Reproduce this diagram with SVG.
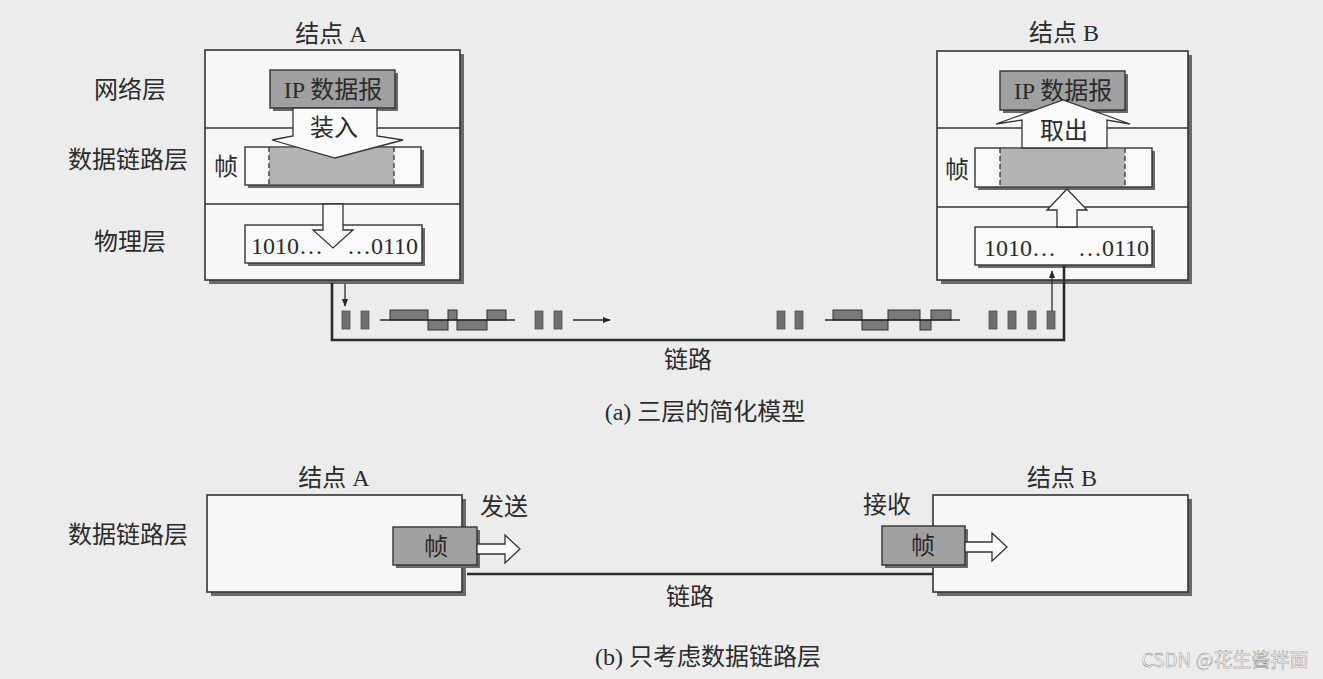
<svg xmlns="http://www.w3.org/2000/svg" width="1323" height="679" viewBox="0 0 1323 679">
<style>
.t{font-family:"Liberation Serif","Noto Sans CJK SC",serif;fill:#2b2b2b;font-size:24px}
.c{text-anchor:middle}
.box{fill:#f7f7f7;stroke:#333;stroke-width:1.6}
.sh{fill:#6a6a6a}
.sep{stroke:#333;stroke-width:1.4}
.ip{fill:#a0a0a0;stroke:#333;stroke-width:1.4}
.frm{fill:#f9f9f9;stroke:#333;stroke-width:1.4}
.fg{fill:#b4b4b4}
.dash{stroke:#333;stroke-width:1.3;stroke-dasharray:5 3}
.hol{fill:#fbfbfb;stroke:#333;stroke-width:1.3;stroke-linejoin:miter}
.link{fill:none;stroke:#2b2b2b;stroke-width:2.6}
.thin{stroke:#2b2b2b;stroke-width:1.3;fill:none}
.sig{fill:#6e6e6e;stroke:#555;stroke-width:0.8}
.pulse{fill:#7a7a7a;stroke:#333;stroke-width:1}
</style>
<defs>
<marker id="ah" viewBox="0 0 10 10" refX="9" refY="5" markerWidth="8" markerHeight="8" markerUnits="userSpaceOnUse" orient="auto">
<path d="M0,1 L10,5 L0,9 Z" fill="#2b2b2b"/>
</marker>
</defs>
<rect x="0" y="0" width="1323" height="679" fill="#ececec"/>

<!-- layer labels (a) -->
<g id="layer-labels">
<text class="t c" x="130" y="98">网络层</text>
<text class="t c" x="128" y="168">数据链路层</text>
<text class="t c" x="130" y="250">物理层</text>
</g>

<!-- (a) node A -->
<g id="nodeA-a">
<text class="t c" x="331" y="42" font-size="23">结点 A</text>
<rect class="sh" x="209" y="54" width="255" height="230"/>
<rect class="box" x="205" y="50" width="255" height="230"/>
<line class="sep" x1="205" y1="128" x2="460" y2="128"/>
<line class="sep" x1="205" y1="204" x2="460" y2="204"/>
<rect class="sh" x="273" y="73" width="125" height="38"/>
<rect class="ip" x="270" y="70" width="125" height="38"/>
<text class="t c" x="333" y="98">IP 数据报</text>
<rect class="sh" x="248" y="150" width="176" height="38"/>
<rect class="frm" x="245" y="147" width="176" height="38"/>
<rect class="fg" x="269" y="148" width="125" height="36"/>
<line class="dash" x1="269" y1="147" x2="269" y2="185"/>
<line class="dash" x1="394" y1="147" x2="394" y2="185"/>
<text class="t c" x="226" y="175">帧</text>
<polygon class="hol" points="293,108 377,108 377,136 403,140 335,158 272,140 293,136"/>
<text class="t c" x="334" y="136">装入</text>
<rect class="sh" x="248" y="228" width="177" height="38"/>
<rect class="frm" x="245" y="225" width="177" height="38"/>
<polygon class="hol" points="323,204 343,204 343,230 353,230 333,248 313,230 323,230"/>
<text class="t" x="251" y="254">1010…</text>
<text class="t" x="418" y="254" text-anchor="end">…0110</text>
</g>

<!-- (a) node B -->
<g id="nodeB-a">
<text class="t c" x="1064" y="41" font-size="23">结点 B</text>
<rect class="sh" x="941" y="55" width="251" height="229"/>
<rect class="box" x="937" y="51" width="251" height="229"/>
<line class="sep" x1="937" y1="128" x2="1188" y2="128"/>
<line class="sep" x1="937" y1="207" x2="1188" y2="207"/>
<rect class="sh" x="1003" y="74" width="125" height="39"/>
<rect class="ip" x="1000" y="71" width="125" height="39"/>
<text class="t c" x="1063" y="99">IP 数据报</text>
<rect class="sh" x="978" y="151" width="177" height="39"/>
<rect class="frm" x="975" y="148" width="177" height="39"/>
<rect class="fg" x="1000" y="149" width="125" height="37"/>
<line class="dash" x1="1000" y1="148" x2="1000" y2="187"/>
<line class="dash" x1="1125" y1="148" x2="1125" y2="187"/>
<text class="t c" x="957" y="178">帧</text>
<polygon class="hol" points="1022,148 1022,120 996,124 1063,100 1130,124 1107,120 1107,148"/>
<text class="t c" x="1064" y="139">取出</text>
<rect class="sh" x="978" y="230" width="177" height="38"/>
<rect class="frm" x="975" y="227" width="177" height="38"/>
<polygon class="hol" points="1057,227 1077,227 1077,210 1087,210 1067,189 1047,210 1057,210"/>
<text class="t" x="984" y="256">1010…</text>
<text class="t" x="1149" y="256" text-anchor="end">…0110</text>
</g>

<!-- signals on link -->
<g id="signals">
<rect class="sig" x="342" y="311" width="8" height="18"/>
<rect class="sig" x="361" y="311" width="8" height="18"/>
<rect class="pulse" x="390" y="310" width="38" height="10"/>
<rect class="pulse" x="428" y="320" width="20" height="10"/>
<rect class="pulse" x="448" y="310" width="9" height="10"/>
<rect class="pulse" x="457" y="320" width="30" height="10"/>
<rect class="pulse" x="487" y="310" width="19" height="10"/>
<line class="thin" x1="380" y1="320" x2="515" y2="320"/>
<rect class="sig" x="535" y="311" width="8" height="18"/>
<rect class="sig" x="554" y="311" width="8" height="18"/>
<rect class="sig" x="777" y="311" width="8" height="18"/>
<rect class="sig" x="795" y="311" width="8" height="18"/>
<rect class="pulse" x="833" y="310" width="29" height="10"/>
<rect class="pulse" x="862" y="320" width="26" height="10"/>
<rect class="pulse" x="888" y="310" width="32" height="10"/>
<rect class="pulse" x="920" y="320" width="11" height="10"/>
<rect class="pulse" x="931" y="310" width="20" height="10"/>
<line class="thin" x1="825" y1="320" x2="960" y2="320"/>
<rect class="sig" x="989" y="311" width="8" height="18"/>
<rect class="sig" x="1008" y="311" width="8" height="18"/>
<rect class="sig" x="1028" y="311" width="8" height="18"/>
<rect class="sig" x="1047" y="311" width="8" height="18"/>
</g>

<text class="t c" x="688" y="368">链路</text>
<text class="t c" x="705" y="420">(a) 三层的简化模型</text>

<!-- (b) -->
<text class="t c" x="128" y="543">数据链路层</text>
<g id="nodeA-b">
<text class="t c" x="334" y="486" font-size="23">结点 A</text>
<rect class="sh" x="211" y="499" width="255" height="97"/>
<rect class="box" x="207" y="495" width="255" height="97"/>
<rect class="sh" x="396" y="530" width="84" height="38"/>
<rect class="ip" x="393" y="527" width="84" height="38"/>
<text class="t c" x="436" y="555">帧</text>
</g>
<g id="nodeB-b">
<text class="t c" x="1062" y="486" font-size="23">结点 B</text>
<rect class="sh" x="937" y="499" width="255" height="97"/>
<rect class="box" x="933" y="495" width="255" height="97"/>
<rect class="sh" x="885" y="529" width="83" height="39"/>
<rect class="ip" x="882" y="526" width="83" height="39"/>
<text class="t c" x="923" y="554">帧</text>
</g>

<!-- connectors -->
<g id="connectors">
<polyline class="link" points="332,283 332,340 1064,340 1064,266"/>
<line class="thin" x1="345" y1="284" x2="345" y2="306" marker-end="url(#ah)"/>
<line class="thin" x1="1052" y1="311" x2="1052" y2="271" marker-end="url(#ah)"/>
<line class="thin" x1="573" y1="320" x2="610" y2="320" marker-end="url(#ah)"/>
<line x1="467" y1="574" x2="933" y2="574" stroke="#2b2b2b" stroke-width="2.6"/>
<polygon class="hol" points="477,544 505,544 505,535 520,549 505,563 505,554 477,554"/>
<polygon class="hol" points="965,542 992,542 992,533 1007,547 992,561 992,552 965,552"/>
</g>

<text class="t c" x="504" y="515">发送</text>
<text class="t c" x="887" y="513">接收</text>
<text class="t c" x="690" y="605">链路</text>
<text class="t c" x="708" y="665">(b) 只考虑数据链路层</text>
<text x="1225" y="667" text-anchor="middle" font-family="'Noto Sans CJK SC','Liberation Sans',sans-serif" font-size="19" fill="#fafafa" stroke="#7a7a7a" stroke-width="0.4">CSDN @花生酱拌面</text>
</svg>
